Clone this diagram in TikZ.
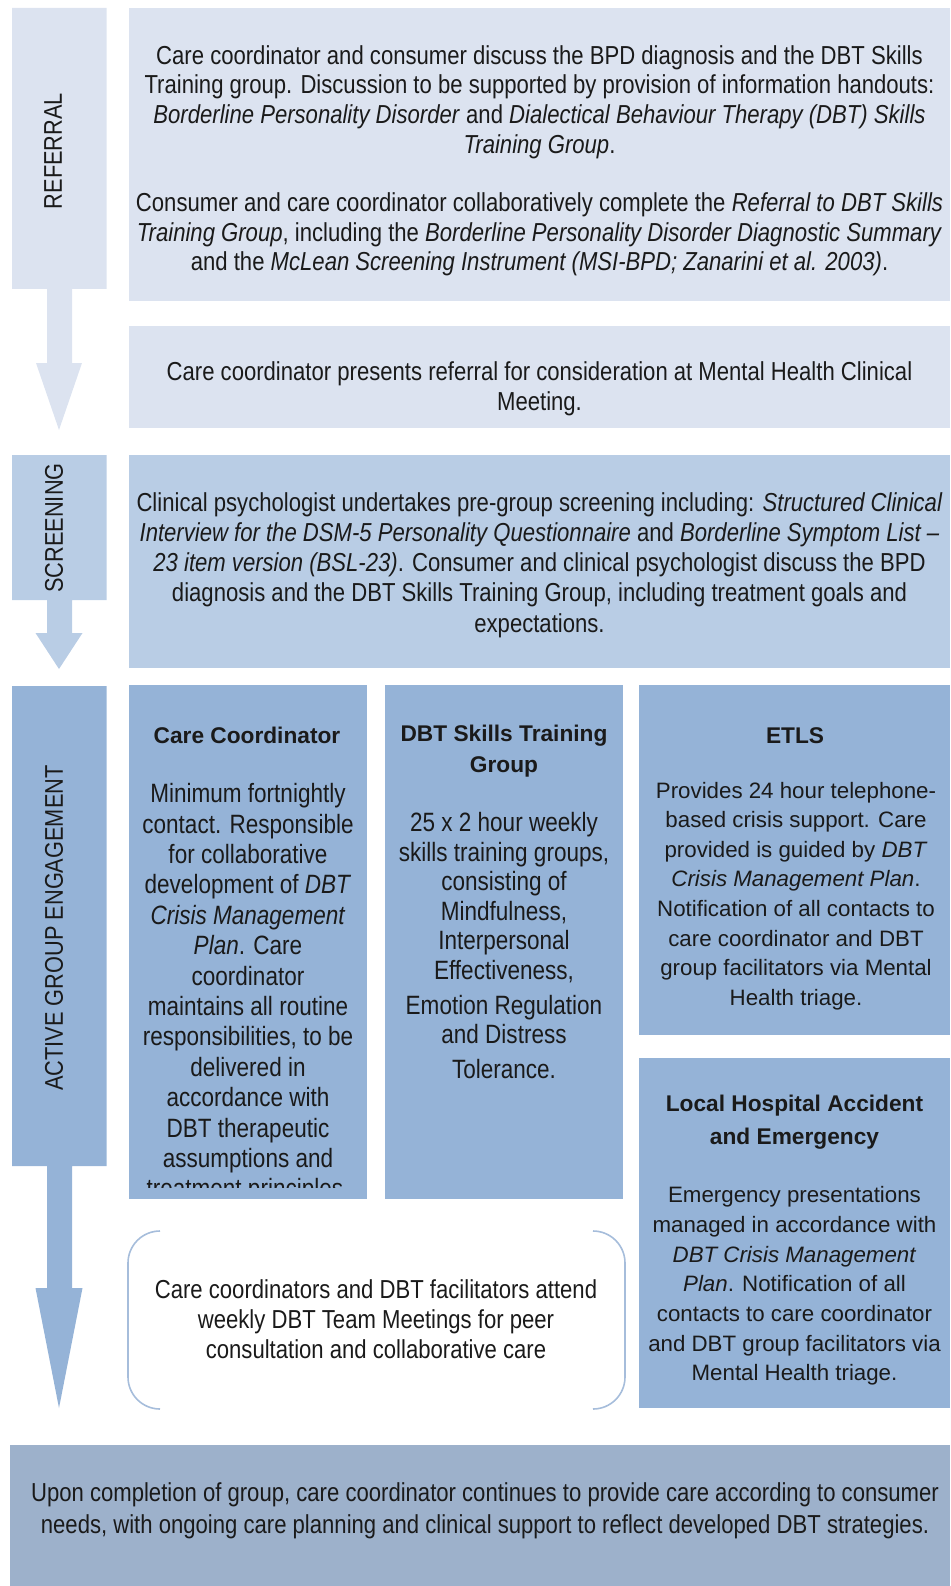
\documentclass[tikz,border=0pt]{standalone}
\usepackage{fontspec}
\setmainfont{Liberation Sans}[FakeStretch=0.85]
\newfontfamily\plainsans{Liberation Sans}
\definecolor{refc}{HTML}{DCE3F0}
\definecolor{scrc}{HTML}{B9CDE5}
\definecolor{actc}{HTML}{95B3D7}
\definecolor{finc}{HTML}{9DB1CB}
\definecolor{brkc}{HTML}{A6BDDB}
\definecolor{ink}{HTML}{1A1A1A}
\begin{document}
\begin{tikzpicture}[x=1pt,y=-1pt,
  panel/.style={inner sep=0pt, outer sep=0pt, anchor=north west},
  txt/.style={inner sep=0pt, align=center, text=ink},
  widetxt/.style={txt, font=\fontsize{26}{29.8}\selectfont},
  coltxt/.style={txt, font=\fontsize{26.5}{29.75}\selectfont},
  sidetxt/.style={txt, font=\plainsans\fontsize{22.3}{29.6}\selectfont},
  headtxt/.style={txt, font=\plainsans\bfseries\fontsize{22.7}{31.5}\selectfont},
  vlabel/.style={inner sep=0pt, rotate=90, text=ink, font=\fontsize{25.6}{30}\selectfont},
]
\useasboundingbox (0,0) rectangle (950,1586);

% ---- stage bars with their down arrows ----
\fill[refc] (12,8) -- (106.5,8) -- (106.5,289) -- (72,289) -- (72,363) -- (82,363)
  -- (59,430) -- (36,363) -- (47,363) -- (47,289) -- (12,289) -- cycle;
\fill[scrc] (12,455) -- (106.5,455) -- (106.5,600) -- (72,600) -- (72,633) -- (82.5,633)
  -- (59,669) -- (35.5,633) -- (47,633) -- (47,600) -- (12,600) -- cycle;
\fill[actc] (12,686) -- (106.5,686) -- (106.5,1166) -- (72,1166) -- (72,1288) -- (82.5,1288)
  -- (59,1408) -- (35.5,1288) -- (47,1288) -- (47,1166) -- (12,1166) -- cycle;

\node[vlabel] (lref) at (53,151) {REFERRAL};
\node[vlabel] (lscr) at (54,528) {SCREENING};
\node[vlabel] (lact) at (54,928) {ACTIVE GROUP ENGAGEMENT};

% ---- referral stage ----
\node[panel, fill=refc, minimum width=821pt, minimum height=293pt] (refbox) at (129,8) {};
\node[widetxt] (reftext) at (539.5,160.7) {%
Care coordinator and consumer discuss the BPD diagnosis and the DBT Skills\\
Training group. Discussion to be supported by provision of information handouts:\\
\textit{Borderline Personality Disorder} and \textit{Dialectical Behaviour Therapy (DBT) Skills}\\
\textit{Training Group}.\\[28pt]
Consumer and care coordinator collaboratively complete the \textit{Referral to DBT Skills}\\
\textit{Training Group}, including the \textit{Borderline Personality Disorder Diagnostic Summary}\\
and the \textit{McLean Screening Instrument (MSI-BPD; Zanarini et al. 2003)}.};

\node[panel, fill=refc, minimum width=821pt, minimum height=102pt] (meetbox) at (129,326) {};
\node[widetxt] (meettext) at (539.5,389) {%
Care coordinator presents referral for consideration at Mental Health Clinical\\
Meeting.};

% ---- screening stage ----
\node[panel, fill=scrc, minimum width=821pt, minimum height=213pt] (scrbox) at (129,455) {};
\node[widetxt, font=\fontsize{26}{30.2}\selectfont] (scrtext) at (539.5,565) {%
Clinical psychologist undertakes pre-group screening including: \textit{Structured Clinical}\\
\textit{Interview for the DSM-5 Personality Questionnaire} and \textit{Borderline Symptom List –}\\
\textit{23 item version (BSL-23)}. Consumer and clinical psychologist discuss the BPD\\
diagnosis and the DBT Skills Training Group, including treatment goals and\\
expectations.};

% ---- active group engagement stage ----
\node[panel, fill=actc, minimum width=238pt, minimum height=514pt] (ccbox) at (129,685) {};
\node[headtxt] (cchead) at (247,735.5) {Care Coordinator};
\begin{scope}
  % the column text runs past the frame and is cut off at its lower margin
  \clip (129,685) rectangle (367,1187);
  \node[coltxt, font=\fontsize{26.5}{30.4}\selectfont] (cctext) at (248,993.5) {%
  Minimum fortnightly\\
  contact. Responsible\\
  for collaborative\\
  development of \textit{DBT}\\
  \textit{Crisis Management}\\
  \textit{Plan}. Care\\
  coordinator\\
  maintains all routine\\
  responsibilities, to be\\
  delivered in\\
  accordance with\\
  DBT therapeutic\\
  assumptions and\\
  treatment principles.};
\end{scope}

\node[panel, fill=actc, minimum width=238pt, minimum height=514pt] (dbtbox) at (385,685) {};
\node[headtxt] (dbthead) at (504,751) {DBT Skills Training\\Group};
\node[coltxt, font=\fontsize{26.5}{29.5}\selectfont] (dbttext) at (504,946) {%
25 x 2 hour weekly\\
skills training groups,\\
consisting of\\
Mindfulness,\\
Interpersonal\\
Effectiveness,\\[5.5pt]
Emotion Regulation\\
and Distress\\[5.5pt]
Tolerance.};

\node[panel, fill=actc, minimum width=311pt, minimum height=350pt] (etlsbox) at (639,685) {};
\node[headtxt] (etlshead) at (795,735.5) {ETLS};
\node[sidetxt] (etlstext) at (796,896) {%
Provides 24 hour telephone-\\
based crisis support. Care\\
provided is guided by \textit{DBT}\\
\textit{Crisis Management Plan}.\\
Notification of all contacts to\\
care coordinator and DBT\\
group facilitators via Mental\\
Health triage.};

\node[panel, fill=actc, minimum width=311pt, minimum height=350pt] (aebox) at (639,1058) {};
\node[headtxt, font=\plainsans\bfseries\fontsize{22.7}{33}\selectfont] (aehead) at (794.5,1122.5)
  {Local Hospital Accident\\and Emergency};
\node[sidetxt, font=\plainsans\fontsize{22.3}{29.7}\selectfont] (aetext) at (794.5,1286) {%
Emergency presentations\\
managed in accordance with\\
\textit{DBT Crisis Management}\\
\textit{Plan}. Notification of all\\
contacts to care coordinator\\
and DBT group facilitators via\\
Mental Health triage.};

% ---- team meeting bracket ----
\draw[brkc, line width=1.6pt] (160,1231) arc[start angle=90, end angle=180, radius=32pt]
  -- (128,1377) arc[start angle=180, end angle=270, radius=32pt];
\draw[brkc, line width=1.6pt] (593,1231) arc[start angle=90, end angle=0, radius=32pt]
  -- (625,1377) arc[start angle=0, end angle=-90, radius=32pt];
\node[widetxt, font=\fontsize{26}{30}\selectfont] (teamtext) at (376,1319) {%
Care coordinators and DBT facilitators attend\\
weekly DBT Team Meetings for peer\\
consultation and collaborative care};

% ---- after the group ----
\node[panel, fill=finc, minimum width=940pt, minimum height=141pt] (finbox) at (10,1445) {};
\node[widetxt, font=\fontsize{26}{32.5}\selectfont] (fintext) at (485,1511) {%
Upon completion of group, care coordinator continues to provide care according to consumer\\
needs, with ongoing care planning and clinical support to reflect developed DBT strategies.};
\end{tikzpicture}
\end{document}
